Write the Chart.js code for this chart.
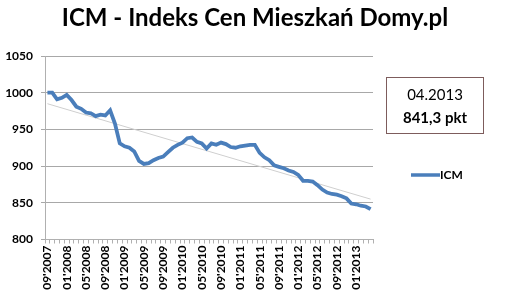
<!DOCTYPE html>
<html>
<head>
<meta charset="utf-8">
<script src="https://cdn.jsdelivr.net/npm/chart.js@4.4.0/dist/chart.umd.min.js"></script>
<style>
  html, body { margin: 0; padding: 0; background: #fff; }
  #wrap { width: 510px; height: 298px; }
</style>
</head>
<body>
<div id="wrap"><canvas id="icmChart" width="510" height="298"></canvas></div>
<script>
// months 09'2007 .. 04'2013
const months = [];
const startYear = 2007, startMonth = 9;
for (let i = 0; i < 68; i++) {
    const m = ((startMonth - 1 + i) % 12) + 1;
    const y = startYear + Math.floor((startMonth - 1 + i) / 12);
    months.push((m < 10 ? '0' + m : '' + m) + "'" + y);
}

const icmValues = [
    1000, 1000, 991, 993, 997, 990, 981, 978, 973, 972, 968, 970,
    969, 976, 958, 931, 927, 925, 920, 907, 903, 904, 908, 911,
    913, 919, 925, 929, 932, 938, 939, 933, 931, 924, 931, 929,
    932, 930, 926, 925, 927, 928, 929, 929, 918, 912, 908, 901,
    899, 897, 894, 892, 888, 880, 880, 879, 874, 868, 864, 862,
    861, 859, 856, 849, 848, 846, 845, 841.3
];

// trend line end points
const trendStart = 985;
const trendEnd = 855;

const yTicks = [800, 850, 900, 950, 1000, 1050];
const boxLines = ['04.2013', '841,3 pkt'];
const seriesName = 'ICM';
const titleText = 'ICM - Indeks Cen Mieszkań Domy.pl';

const FONT = 'Lato, "Open Sans", sans-serif';
const BLUE = '#4a7ebb';

// title, info box and legend drawn outside the plot
const sidePanel = {
    id: 'sidePanel',
    afterDraw(chart) {
        const ctx = chart.ctx;
        ctx.save();
        ctx.fillStyle = '#000';
        ctx.textAlign = 'center';
        ctx.textBaseline = 'middle';
        ctx.font = 'bold 24px ' + FONT;
        ctx.fillText(titleText, 255, 18);
        // box
        ctx.strokeStyle = '#7d5c5c';
        ctx.lineWidth = 1;
        ctx.strokeRect(386.5, 77.5, 97, 56);
        ctx.font = '15px ' + FONT;
        ctx.fillText(boxLines[0], 435, 95);
        ctx.font = 'bold 15px ' + FONT;
        ctx.fillText(boxLines[1], 435, 118);
        // legend
        ctx.strokeStyle = BLUE;
        ctx.lineWidth = 3.5;
        ctx.beginPath();
        ctx.moveTo(411, 175);
        ctx.lineTo(440, 175);
        ctx.stroke();
        ctx.textAlign = 'left';
        ctx.font = 'bold 12px ' + FONT;
        ctx.fillText(seriesName, 440, 175.5);
        ctx.restore();
    }
};

const ctx = document.getElementById('icmChart').getContext('2d');
new Chart(ctx, {
    type: 'line',
    data: {
        labels: months,
        datasets: [{
            label: seriesName,
            data: icmValues,
            borderColor: BLUE,
            borderWidth: 3.8,
            pointRadius: 0,
            tension: 0,
            order: 1
        }, {
            label: 'trend',
            data: [{ x: months[0], y: trendStart }, { x: months[months.length - 1], y: trendEnd }],
            borderColor: '#cfcfcf',
            borderWidth: 1,
            pointRadius: 0,
            order: 2
        }]
    },
    options: {
        responsive: false,
        animation: false,
        layout: { padding: { left: 0, right: 137, top: 56, bottom: 0 } },
        plugins: {
            legend: { display: false },
            tooltip: { enabled: false },
            title: { display: false }
        },
        scales: {
            x: {
                type: 'category',
                offset: true,
                grid: { display: true, drawOnChartArea: false, offset: true, tickLength: 4, color: '#b0b0b0' },
                border: { color: '#b0b0b0' },
                ticks: {
                    autoSkip: false,
                    minRotation: 90,
                    maxRotation: 90,
                    padding: 2,
                    color: '#000',
                    font: { family: FONT, size: 12, weight: 'bold' },
                    callback: function(val, i) { return i % 4 === 0 ? months[i] : ''; }
                },
                afterFit: s => { s.height = 58.5; }
            },
            y: {
                min: yTicks[0],
                max: yTicks[yTicks.length - 1],
                grid: { color: '#a8a8a8', tickLength: 4 },
                border: { color: '#b0b0b0' },
                ticks: {
                    stepSize: 50,
                    padding: 8,
                    color: '#000',
                    font: { family: FONT, size: 12, weight: 'bold' },
                    callback: v => String(v)
                },
                afterFit: s => { s.width = 45; }
            }
        }
    },
    plugins: [sidePanel]
});
</script>
</body>
</html>
